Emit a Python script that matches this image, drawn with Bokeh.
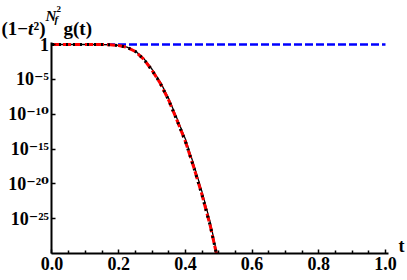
from bokeh.plotting import figure
from bokeh.models import Range1d, FixedTicker, CustomJSTickFormatter, NumeralTickFormatter, Label
from bokeh.embed import file_html
from bokeh.resources import INLINE

# ---- data ----
t_curve = [0.0, 0.05, 0.1, 0.125, 0.15, 0.175, 0.2, 0.225, 0.25, 0.275,
           0.3, 0.325, 0.35, 0.375, 0.4, 0.425, 0.45, 0.475, 0.493]
# log10 of the approximation (red dashed / black dotted)
log_g_approx = [0.0, 0.0, 0.0, -0.003, -0.01, -0.04, -0.15, -0.4, -1.0, -2.1,
                -3.7, -5.6, -8.0, -10.9, -13.9, -17.6, -21.6, -26.1, -30.0]
t_exact = [0.0, 0.05, 0.1, 0.125, 0.15, 0.175, 0.2, 0.225, 0.25, 0.275,
           0.3, 0.325, 0.35, 0.375, 0.4, 0.425, 0.45, 0.475, 0.4945]
# log10 of the exact curve (thin black solid)
log_g_exact = [0.0, 0.0, 0.0, -0.003, -0.009, -0.035, -0.14, -0.37, -0.94, -2.0,
               -3.55, -5.4, -7.75, -10.6, -13.55, -17.2, -21.15, -25.6, -30.0]
t_flat = [0.0, 0.1, 0.2, 0.3, 0.4, 0.5, 0.6, 0.7, 0.8, 0.9, 1.0]
g_flat = [1.0, 1.0, 1.0, 1.0, 1.0, 1.0, 1.0, 1.0, 1.0, 1.0, 1.0]

x_major = [0.0, 0.2, 0.4, 0.6, 0.8, 1.0]
x_minor = [0.05, 0.1, 0.15, 0.25, 0.3, 0.35, 0.45, 0.5, 0.55, 0.65, 0.7, 0.75,
           0.85, 0.9, 0.95]
y_major = [1e-25, 1e-20, 1e-15, 1e-10, 1e-5, 1.0]
x_axis_span = (0.0, 1.01)
y_axis_span = (1e-30, 10 ** 0.25)

g_approx = [10 ** v for v in log_g_approx]
g_exact = [10 ** v for v in log_g_exact]

FONT = "Liberation Serif, DejaVu Serif"
W, H = 407, 280

p = figure(width=W, height=H, output_backend="svg", toolbar_location=None,
           y_axis_type="log",
           x_range=Range1d(-0.1544, 1.066), y_range=Range1d(10 ** -33.86, 10 ** 6.313),
           min_border=0, min_border_left=0, min_border_right=0,
           min_border_top=0, min_border_bottom=0)
p.outline_line_color = None
p.grid.visible = False

p.line(t_exact, g_exact, line_color="black", line_width=1.3)
p.line(t_flat, g_flat, line_color="blue", line_width=2.5, line_dash="8 3")
p.line(t_curve, g_approx, line_color="red", line_width=3, line_dash="8 3")
p.line(t_curve, g_approx, line_color="black", line_width=3, line_dash="2 5")

for ax in (p.xaxis[0], p.yaxis[0]):
    ax.axis_line_width = 2
    ax.axis_line_color = "black"
    ax.major_tick_in = 4
    ax.major_tick_out = 0
    ax.major_tick_line_width = 1.5
    ax.minor_tick_in = 3
    ax.minor_tick_out = 0
    ax.minor_tick_line_width = 1.5
    ax.major_label_text_font = FONT
    ax.major_label_text_font_style = "bold"
    ax.major_label_text_font_size = "18px"
    ax.major_label_text_color = "black"
    ax.major_label_standoff = 3

p.xaxis[0].fixed_location = y_axis_span[0]
p.xaxis[0].bounds = x_axis_span
p.yaxis[0].fixed_location = x_axis_span[0]
p.yaxis[0].bounds = y_axis_span

p.xaxis[0].ticker = FixedTicker(ticks=x_major, minor_ticks=x_minor)
p.xaxis[0].formatter = NumeralTickFormatter(format="0.0")
p.yaxis[0].ticker = FixedTicker(ticks=y_major, minor_ticks=[])
p.yaxis[0].minor_tick_line_color = None
p.yaxis[0].formatter = CustomJSTickFormatter(code="""
const e = Math.round(Math.log10(tick));
if (e == 0) { return "1"; }
const sup = {"-": "\u207b", "0": "\u2070", "1": "\u00b9", "2": "\u00b2", "3": "\u00b3",
             "4": "\u2074", "5": "\u2075", "6": "\u2076", "7": "\u2077", "8": "\u2078", "9": "\u2079"};
return "10" + String(e).split("").map(c => sup[c]).join("");
""")

def lab(text, x, y, size, style="bold"):
    # x, y: screen pixels from the left / top of the canvas
    p.add_layout(Label(x=x, y=H - y, x_units="screen", y_units="screen", text=text,
                       text_font=FONT, text_font_style=style, text_font_size=size,
                       text_color="black", text_align="left",
                       text_baseline="alphabetic"))

# ---- title: (1-t^2)^{N_f^2} g(t) ----
lab("(1\u2212", 1, 28, "19px")
lab("t", 27.5, 28, "19px", "bold italic")
lab("\u00b2)", 33, 28, "19px")
lab("N", 45, 15, "15px", "bold italic")
lab("f", 54, 18, "11px", "bold italic")
lab("2", 56, 8, "9px")
lab("g(t)", 63, 28, "19px")

# axis label t at the right end of the x axis
lab("t", 398, 245, "18px")

open("out.html", "w").write(file_html(p, INLINE))
